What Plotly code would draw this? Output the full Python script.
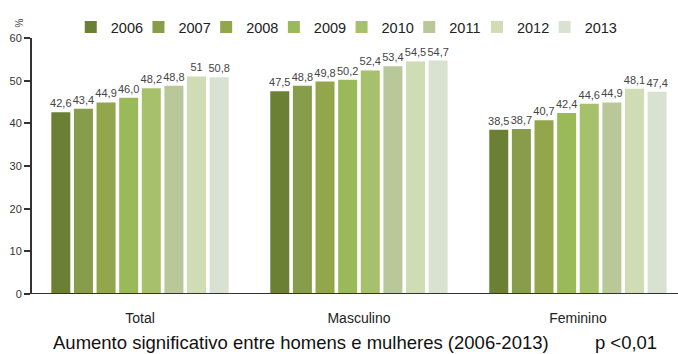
import plotly.graph_objects as go

categories = ["Total", "Masculino", "Feminino"]
years = ["2006", "2007", "2008", "2009", "2010", "2011", "2012", "2013"]
values = {
    "2006": [42.6, 47.5, 38.5],
    "2007": [43.4, 48.8, 38.7],
    "2008": [44.9, 49.8, 40.7],
    "2009": [46.0, 50.2, 42.4],
    "2010": [48.2, 52.4, 44.6],
    "2011": [48.8, 53.4, 44.9],
    "2012": [51.0, 54.5, 48.1],
    "2013": [50.8, 54.7, 47.4],
}
labels = {
    "2006": ["42,6", "47,5", "38,5"],
    "2007": ["43,4", "48,8", "38,7"],
    "2008": ["44,9", "49,8", "40,7"],
    "2009": ["46,0", "50,2", "42,4"],
    "2010": ["48,2", "52,4", "44,6"],
    "2011": ["48,8", "53,4", "44,9"],
    "2012": ["51", "54,5", "48,1"],
    "2013": ["50,8", "54,7", "47,4"],
}
colors = ["#6b8035", "#879d4c", "#94a64b", "#9aba5a", "#a6c06c", "#b8c898", "#d0dcb4", "#d9e2d0"]
y_ticks = [0, 10, 20, 30, 40, 50, 60]
footnote = "Aumento significativo entre homens e mulheres (2006-2013)" + "&nbsp;" * 9 + "p <0,01"

FONT = "Liberation Sans, Arial, sans-serif"

fig = go.Figure()
legend_layout = {}
for i, (yr, col) in enumerate(zip(years, colors)):
    lname = "legend" if i == 0 else f"legend{i + 1}"
    fig.add_trace(go.Bar(
        name=yr,
        x=list(range(len(categories))),
        y=values[yr],
        text=labels[yr],
        textposition="outside",
        textangle=0,
        constraintext="none",
        cliponaxis=False,
        textfont=dict(size=11, color="#444444", family=FONT),
        marker=dict(color=col, line=dict(width=0)),
        legend=lname,
    ))
    legend_layout[lname] = dict(
        orientation="h", x=0.06 + i * 67.7 / 646, xanchor="left",
        y=0.9805, yanchor="bottom", yref="paper",
        font=dict(size=14.5, color="#222222", family=FONT),
        itemwidth=30, bgcolor="rgba(0,0,0,0)",
    )

fig.update_layout(
    width=678, height=354,
    margin=dict(l=32, r=0, t=38, b=60),
    paper_bgcolor="white", plot_bgcolor="white",
    barmode="group", bargap=0.1735, bargroupgap=0.16,
    font=dict(family=FONT, color="#222222"),
    showlegend=True,
    xaxis=dict(
        tickmode="array", tickvals=list(range(len(categories))), ticktext=categories,
        range=[-0.4932, 2.457], showgrid=False, zeroline=False,
        showline=False, ticks="", ticklabelstandoff=14,
        tickfont=dict(size=14, color="#222222"),
    ),
    yaxis=dict(
        range=[0, 60], tickvals=y_ticks, showgrid=False, zeroline=False,
        showline=True, linecolor="#333333", linewidth=2,
        ticks="outside", ticklen=6, tickwidth=1.5, tickcolor="#333333",
        tickfont=dict(size=11, color="#333333"),
    ),
    shapes=[dict(type="line", xref="paper", yref="y", x0=-0.01, x1=1, y0=0, y1=0,
                 line=dict(color="#333333", width=2))],
    annotations=[
        dict(text="%", xref="paper", yref="paper", x=-0.0186, y=1.06,
             xanchor="center", yanchor="middle", showarrow=False,
             textangle=-90, font=dict(size=10, color="#444444")),
        dict(text=footnote, xref="paper", yref="paper", x=0.5, y=-0.19,
             xanchor="center", yanchor="middle", showarrow=False,
             font=dict(size=18.5, color="#111111")),
    ],
    **legend_layout,
)

fig.write_html("out.html")
